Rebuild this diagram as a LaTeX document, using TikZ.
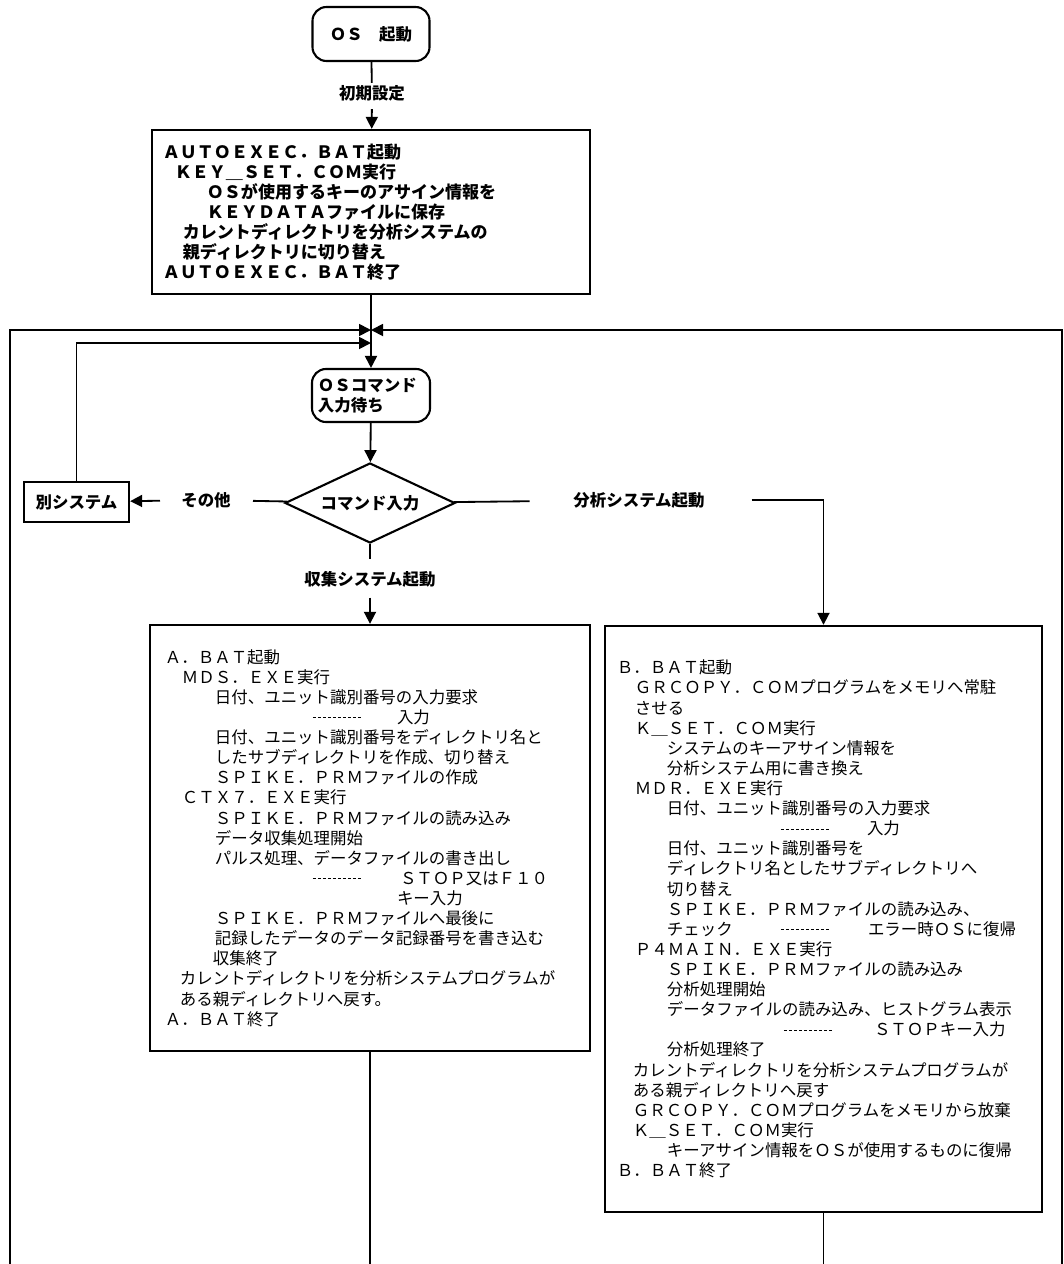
\documentclass[tikz,border=0pt]{standalone}
\usepackage{fontspec}
\setmainfont{Noto Sans CJK JP}
\usepackage{tikz}
\usetikzlibrary{arrows.meta,shapes.geometric}

\newcommand{\ind}[1]{\hspace*{#1}}
\newcommand{\dashes}{\xleaders\hbox to 0.125cm{\hss\rule[0.33em]{0.08cm}{0.5pt}\hss}\hskip 1.25cm\relax}
\newcommand{\dashto}[2]{\makebox[#1][l]{\dashes}#2}

\begin{document}
\begin{tikzpicture}[x=0.025cm,y=-0.025cm,line width=1.3pt,
  arr/.style={-{Triangle[length=0.3cm,width=0.3cm]}},
  jp/.style={font=\fontsize{11.7}{14.3}\selectfont},
  jpb/.style={font=\bfseries\fontsize{11.7}{14.3}\selectfont},
  term/.style={draw,jpb,rounded corners=0.35cm,line width=1.5pt},
  lbl/.style={jpb,inner sep=1pt},
  proc/.style={draw,line width=1.6pt,align=left,inner ysep=0pt}]
\useasboundingbox (0,0) rectangle (1064,1264);

\node[term,minimum width=2.925cm,minimum height=1.35cm] (start) at (371,34) {ＯＳ　起動};
\node[lbl] (init) at (372,93) {初期設定};
\node[proc,font=\bfseries\fontsize{12.1}{14.3}\selectfont,minimum width=10.95cm,minimum height=4.1cm,text width=10.4cm,inner xsep=0.275cm] (autoexec) at (371,212) {ＡＵＴＯＥＸＥＣ．ＢＡＴ起動\\
\ind{0.3cm}ＫＥＹ＿ＳＥＴ．ＣＯＭ実行\\
\ind{1.1cm}ＯＳが使用するキーのアサイン情報を\\
\ind{1.1cm}ＫＥＹＤＡＴＡファイルに保存\\
\ind{0.5cm}カレントディレクトリを分析システムの\\
\ind{0.5cm}親ディレクトリに切り替え\\
ＡＵＴＯＥＸＥＣ．ＢＡＴ終了};

\coordinate (m) at (371,330);
\coordinate (j) at (371,343);

\node[term,align=left,text width=2.65cm,inner xsep=0.15cm,minimum width=2.95cm,minimum height=1.325cm] (wait) at (371,395.5) {ＯＳコマンド\\入力待ち};
\node[draw,diamond,jpb,aspect=2.1,minimum width=4.25cm,minimum height=2cm,inner sep=0pt,line width=1.5pt] (cmd) at (370,503) {コマンド入力};
\node[draw,jpb,line width=1.6pt,minimum width=2.625cm,minimum height=1cm] (other) at (76.5,502) {別システム};
\node[lbl] (lother) at (206,500) {その他};
\node[lbl] (lana) at (639,500) {分析システム起動};
\node[lbl] (lcol) at (370,579) {収集システム起動};

\node[proc,jp,minimum width=11cm,minimum height=10.65cm,text width=10.25cm,inner xsep=0.375cm] (abat) at (370,838) {Ａ．ＢＡＴ起動\\
\ind{0.425cm}ＭＤＳ．ＥＸＥ実行\\
\ind{1.25cm}日付、ユニット識別番号の入力要求\\
\ind{3.675cm}\dashto{2.125cm}{入力}\\
\ind{1.25cm}日付、ユニット識別番号をディレクトリ名と\\
\ind{1.25cm}したサブディレクトリを作成、切り替え\\
\ind{1.25cm}ＳＰＩＫＥ．ＰＲＭファイルの作成\\
\ind{0.425cm}ＣＴＸ７．ＥＸＥ実行\\
\ind{1.25cm}ＳＰＩＫＥ．ＰＲＭファイルの読み込み\\
\ind{1.25cm}データ収集処理開始\\
\ind{1.25cm}パルス処理、データファイルの書き出し\\
\ind{3.675cm}\dashto{2.2cm}{ＳＴＯＰ又はＦ１０}\\
\ind{5.8cm}キー入力\\
\ind{1.25cm}ＳＰＩＫＥ．ＰＲＭファイルへ最後に\\
\ind{1.25cm}記録したデータのデータ記録番号を書き込む\\
\ind{1.2cm}収集終了\\
\ind{0.375cm}カレントディレクトリを分析システムプログラムが\\
\ind{0.375cm}ある親ディレクトリへ戻す。\\
Ａ．ＢＡＴ終了};

\node[proc,jp,minimum width=10.925cm,minimum height=14.65cm,text width=10.325cm,inner xsep=0.3cm] (bbat) at (823.5,919) {Ｂ．ＢＡＴ起動\\
\ind{0.45cm}ＧＲＣＯＰＹ．ＣＯＭプログラムをメモリへ常駐\\
\ind{0.45cm}させる\\
\ind{0.45cm}Ｋ＿ＳＥＴ．ＣＯＭ実行\\
\ind{1.25cm}システムのキーアサイン情報を\\
\ind{1.25cm}分析システム用に書き換え\\
\ind{0.45cm}ＭＤＲ．ＥＸＥ実行\\
\ind{1.25cm}日付、ユニット識別番号の入力要求\\
\ind{4.075cm}\dashto{2.175cm}{入力}\\
\ind{1.25cm}日付、ユニット識別番号を\\
\ind{1.25cm}ディレクトリ名としたサブディレクトリへ\\
\ind{1.25cm}切り替え\\
\ind{1.25cm}ＳＰＩＫＥ．ＰＲＭファイルの読み込み、\\
\ind{1.25cm}\makebox[2.825cm][l]{チェック}\dashto{2.2cm}{エラー時ＯＳに復帰}\\
\ind{0.45cm}Ｐ４ＭＡＩＮ．ＥＸＥ実行\\
\ind{1.25cm}ＳＰＩＫＥ．ＰＲＭファイルの読み込み\\
\ind{1.25cm}分析処理開始\\
\ind{1.25cm}データファイルの読み込み、ヒストグラム表示\\
\ind{4.15cm}\dashto{2.275cm}{ＳＴＯＰキー入力}\\
\ind{1.25cm}分析処理終了\\
\ind{0.4cm}カレントディレクトリを分析システムプログラムが\\
\ind{0.4cm}ある親ディレクトリへ戻す\\
\ind{0.4cm}ＧＲＣＯＰＹ．ＣＯＭプログラムをメモリから放棄\\
\ind{0.4cm}Ｋ＿ＳＥＴ．ＣＯＭ実行\\
\ind{1.25cm}キーアサイン情報をＯＳが使用するものに復帰\\
Ｂ．ＢＡＴ終了};

\coordinate (lb) at (10,1264);
\coordinate (rb) at (1062,1264);
\coordinate (ab) at (370,1264);
\coordinate (bb) at (823.5,1264);

\path (start) edge (init);
\path[arr,shorten <=0.15cm] (init) edge (autoexec);
\draw (autoexec) -- (m);
\draw[arr] (lb) |- (m);
\draw[arr] (rb) |- (m);
\draw[arr] (m) -- (wait);
\draw[arr] (other) |- (j);
\draw[arr] (wait) -- (cmd);
\draw[shorten >=0.5cm] (cmd) -- (lother);
\draw[arr,shorten <=0.475cm] (lother) -- (other);
\draw[shorten >=1.04cm] (cmd) -- (lana);
\draw[arr,shorten <=1.115cm] (lana) -| (bbat);
\draw[shorten >=0.25cm] (cmd) -- (lcol);
\draw[arr,shorten <=0.21cm] (lcol) -- (abat);
\draw (abat) -- (ab);
\draw (bbat) -- (bb);

\end{tikzpicture}
\end{document}
